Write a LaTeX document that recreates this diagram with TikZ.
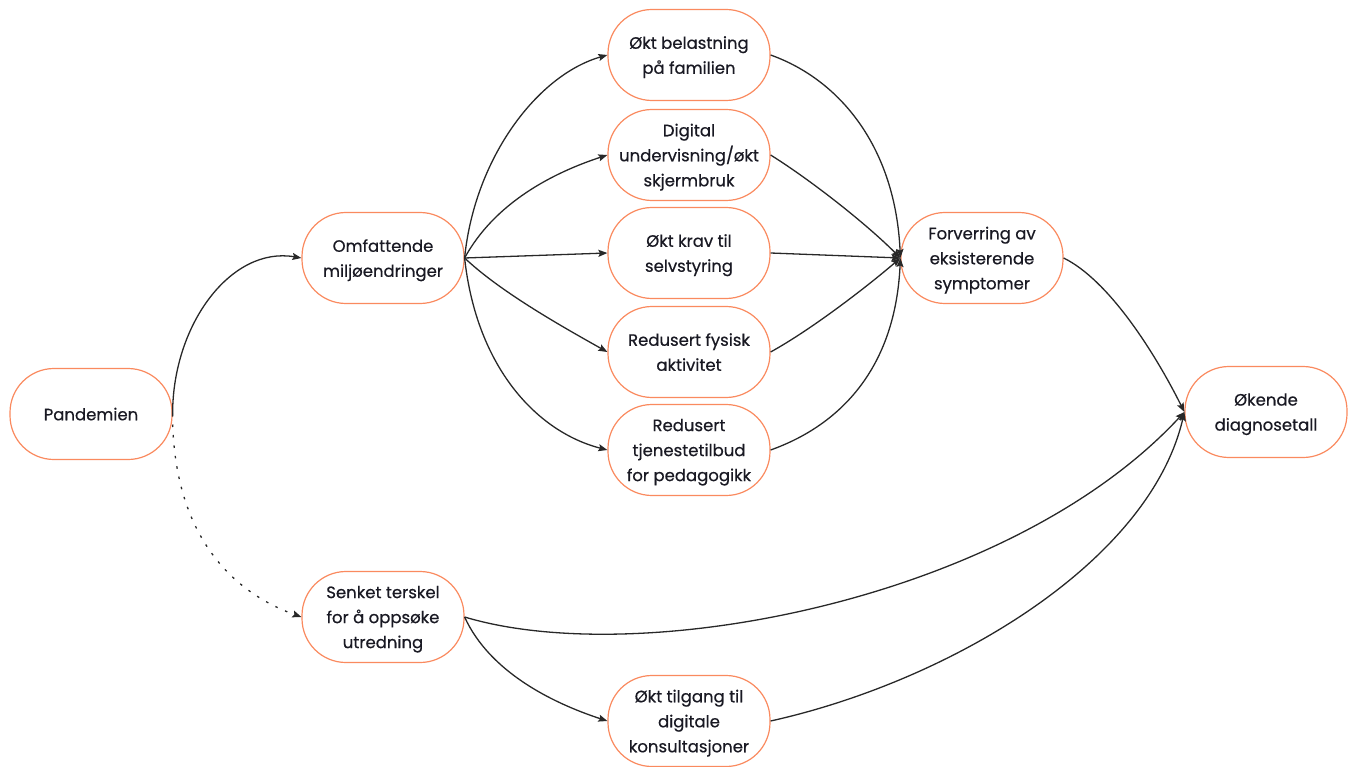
\documentclass[tikz,border=0pt]{standalone}
\usepackage{fontspec}
\setmainfont{Poppins}
\newfontfamily\boxfont{Poppins}[RawFeature={embolden=0.5}]
\usetikzlibrary{arrows.meta}
\definecolor{boxline}{RGB}{250,138,95}
\definecolor{edgeline}{RGB}{40,40,40}
\definecolor{txt}{RGB}{25,25,35}
\tikzset{
  box/.style={draw=boxline, line width=1.2pt, rounded corners=44pt,
    minimum width=162pt, minimum height=91pt, align=center, inner sep=0pt,
    font=\boxfont\fontsize{16.5}{25}\selectfont, text=txt, fill=white,
    text depth=0pt},
  link/.style={draw=edgeline, line width=1.3pt,
    -{Stealth[length=9pt,width=7pt,inset=1.5pt]}},
  dottedlink/.style={link, dash pattern=on 2.5pt off 8pt},
}
\begin{document}
\begin{tikzpicture}[x=1pt,y=-1pt]
\useasboundingbox (0,0) rectangle (1354,767);

% nodes
\node[box] (pan) at (91,414) {Pandemien};
\node[box] (omf) at (383,258) {Omfattende\\miljøendringer};
\node[box] (b1) at (689,55) {Økt belastning\\på familien};
\node[box] (b2) at (689,155) {Digital\\undervisning/økt\\skjermbruk};
\node[box] (b3) at (689,253) {Økt krav til\\selvstyring};
\node[box] (b4) at (689,352) {Redusert fysisk\\aktivitet};
\node[box] (b5) at (689,450) {Redusert\\tjenestetilbud\\for pedagogikk};
\node[box] (forv) at (982,258) {Forverring av\\eksisterende\\symptomer};
\node[box] (oek) at (1266,412) {Økende\\diagnosetall};
\node[box] (sen) at (383,617) {Senket terskel\\for å oppsøke\\utredning};
\node[box] (til) at (689,721) {Økt tilgang til\\digitale\\konsultasjoner};

% upper branch
\draw[link] (pan.east) .. controls +(0,-90) and +(-70,-12) .. (omf.west);
\draw[link] (omf.east) .. controls +(10,-100) and +(-70,20) .. (b1.west);
\draw[link] (omf.east) .. controls +(30,-55) and +(-55,18) .. (b2.west);
\draw[link] (omf.east) -- (b3.west);
\draw[link] (omf.east) .. controls +(35,33) and +(-50,-28) .. (b4.west);
\draw[link] (omf.east) .. controls +(12,110) and +(-70,-18) .. (b5.west);

\draw[link] (b1.east) .. controls +(70,25) and +(-5,-110) .. (forv.west);
\draw[link] (b2.east) .. controls +(40,25) and +(-35,-35) .. (forv.west);
\draw[link] (b3.east) -- (forv.west);
\draw[link] (b4.east) .. controls +(40,-22) and +(-35,30) .. (forv.west);
\draw[link] (b5.east) .. controls +(70,-25) and +(-5,110) .. (forv.west);

\draw[link] (forv.east) .. controls +(45,22) and +(-30,-60) .. (oek.west);

% lower branch
\draw[dottedlink] (pan.east) .. controls +(0,120) and +(-70,-25) .. (sen.west);
\draw[link] (sen.east) .. controls +(176,53) and +(-174,188) .. (oek.west);
\draw[link] (sen.east) .. controls +(25,55) and +(-55,-18) .. (til.west);
\draw[link] (til.east) .. controls +(180,-40) and +(-35,150) .. (oek.west);
\end{tikzpicture}
\end{document}
